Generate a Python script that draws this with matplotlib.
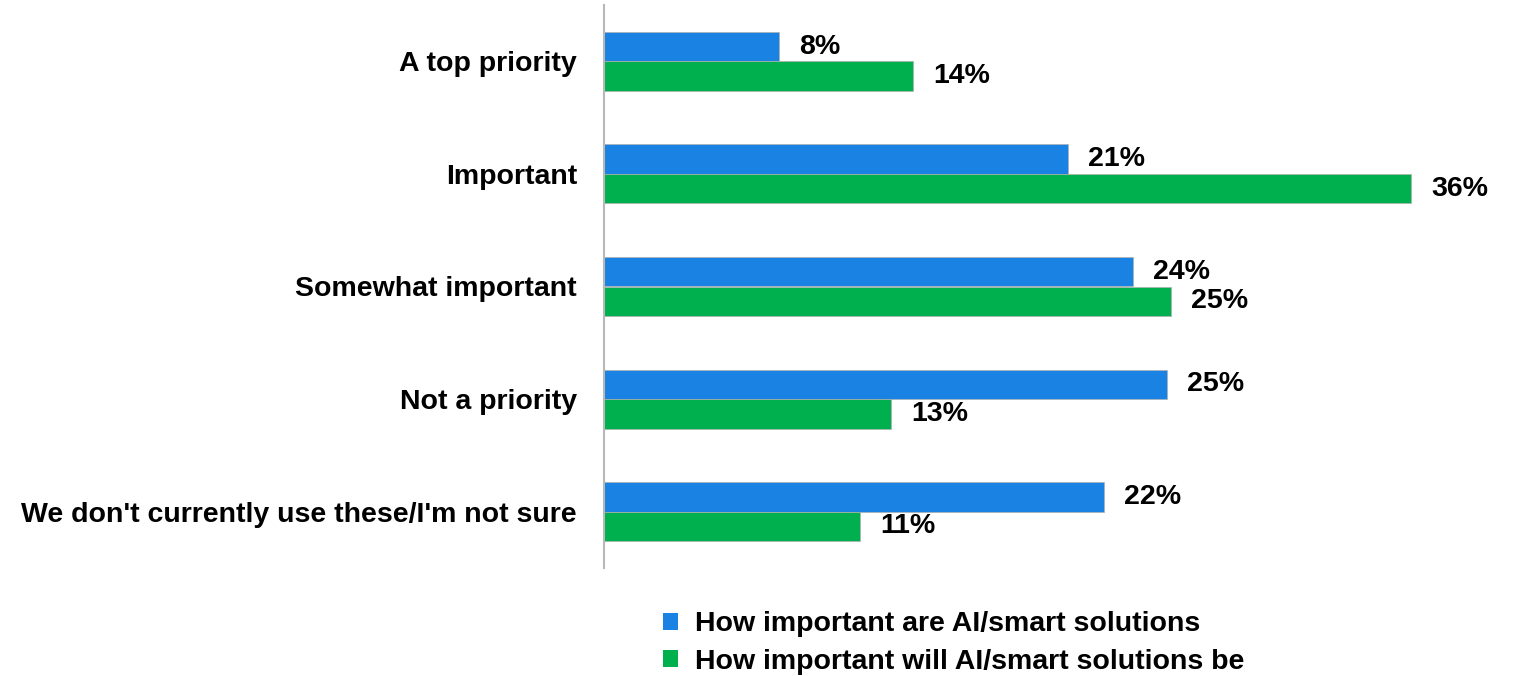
import matplotlib.pyplot as plt
import numpy as np
from matplotlib.patches import Patch

plt.rcParams['font.family'] = ['Liberation Sans', 'DejaVu Sans']
plt.rcParams['font.weight'] = 'bold'

categorias = ["A top priority", "Important", "Somewhat important", "Not a priority",
              "We don't currently use these/I'm not sure"]
actual = [7.8, 20.7, 23.6, 25.1, 22.3]
futuro = [13.8, 36.0, 25.3, 12.8, 11.4]
etiq_actual = ["8%", "21%", "24%", "25%", "22%"]
etiq_futuro = ["14%", "36%", "25%", "13%", "11%"]
series = ["How important are AI/smart solutions", "How important will AI/smart solutions be"]
colores = ["#1a82e2", "#00b04f"]

fig = plt.figure(figsize=(15.14, 6.76), dpi=100)
ax = fig.add_axes([604/1514, 1-568/676, 1-604/1514, 563/676])

y = np.arange(len(categorias))
alto = 0.262
ax.barh(y - alto/2, actual, height=alto, color=colores[0], edgecolor="#b0b0b0", linewidth=0.5)
ax.barh(y + alto/2, futuro, height=alto, color=colores[1], edgecolor="#b0b0b0", linewidth=0.5)

for i in range(len(categorias)):
	ax.text(actual[i] + 0.9, y[i] - alto/2, etiq_actual[i], va="center", ha="left", fontsize=20.5, fontweight="bold")
	ax.text(futuro[i] + 0.9, y[i] + alto/2, etiq_futuro[i], va="center", ha="left", fontsize=20.5, fontweight="bold")

ax.set_xlim(0, 910/22.42)
ax.set_ylim(len(categorias) - 0.5, -0.5)
ax.set_yticks(y)
ax.set_yticklabels(categorias, fontsize=20.5, fontweight="bold")
ax.tick_params(axis="y", length=0, pad=19.5)
ax.set_xticks([])
for lado in ["top", "right", "bottom"]:
	ax.spines[lado].set_visible(False)
ax.spines["left"].set_color("#b8b8b8")
ax.spines["left"].set_linewidth(1.5)

handles = [Patch(facecolor=colores[0]), Patch(facecolor=colores[1])]
fig.legend(handles, series, loc="center left", bbox_to_anchor=(663/1514, 1-643/676),
           frameon=False, handlelength=0.52, handleheight=0.52, borderpad=0, borderaxespad=0,
           handletextpad=0.6, labelspacing=0.39, prop={"weight": "bold", "size": 20.5})

fig.savefig("out.png", dpi=100)
